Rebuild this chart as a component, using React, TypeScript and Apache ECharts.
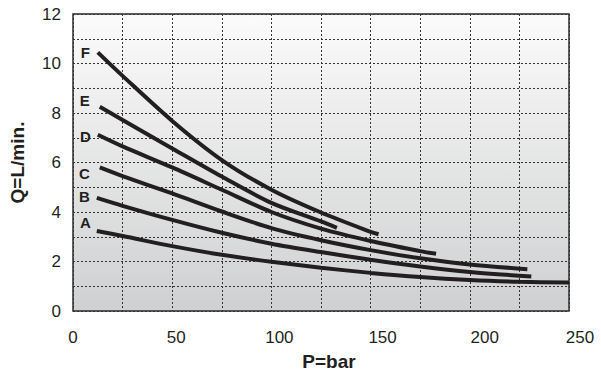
import React, { useEffect, useRef } from "react";
import * as echarts from "echarts";

// Flow (Q, L/min) versus pressure (P, bar) for six settings A–F
const curveNames = ["A", "B", "C", "D", "E", "F"];

const pA = [12, 25, 50, 75, 100, 125, 150, 175, 200, 225, 250];
const qA = [3.23, 3.03, 2.62, 2.27, 1.99, 1.75, 1.54, 1.37, 1.25, 1.18, 1.15];

const pB = [12, 25, 50, 75, 100, 125, 150, 175, 200, 231];
const qB = [4.57, 4.25, 3.68, 3.16, 2.72, 2.38, 2.07, 1.8, 1.58, 1.39];

const pC = [13.5, 25, 50, 75, 100, 125, 150, 175, 200, 229];
const qC = [5.8, 5.45, 4.75, 4.02, 3.35, 2.86, 2.46, 2.13, 1.88, 1.69];

const pD = [12.5, 25, 50, 75, 100, 125, 150, 175, 183];
const qD = [7.12, 6.65, 5.8, 4.9, 4.0, 3.33, 2.83, 2.42, 2.31];

const pE = [13.5, 25, 50, 75, 100, 125, 133];
const qE = [8.25, 7.72, 6.57, 5.43, 4.37, 3.62, 3.36];

const pF = [12.5, 25, 50, 75, 100, 125, 150, 154];
const qF = [10.45, 9.5, 7.68, 6.1, 4.9, 3.98, 3.2, 3.1];

const pressures = [pA, pB, pC, pD, pE, pF];
const flows = [qA, qB, qC, qD, qE, qF];

const xTicks = [0, 50, 100, 150, 200, 250];
const yTicks = [0, 2, 4, 6, 8, 10, 12];

// letter placement next to the start of each curve: [distance, dy]
const letterPlacement: Record<string, [number, number]> = {
  A: [6, -9],
  B: [7, -1],
  C: [10, 6],
  D: [7, 2],
  E: [10, -6],
  F: [8, 0],
};

// small horizontal nudges of the pressure tick labels
const xLabelShift: Record<number, number> = { 0: 0, 50: 4, 100: 8, 150: 12, 200: 15, 250: 11 };

const INK = "#231f20";
const FONT = "'Liberation Sans', Arial, sans-serif";

export default function App() {
  const ref = useRef<HTMLDivElement>(null);

  useEffect(() => {
    if (!ref.current) return;
    const chart = echarts.init(ref.current, undefined, { renderer: "svg" });

    const rich: Record<string, any> = {};
    xTicks.forEach((t) => {
      rich["s" + t] = {
        fontFamily: FONT,
        fontSize: 17,
        color: INK,
        padding: [0, 0, 0, xLabelShift[t] * 2],
      };
    });

    const series = curveNames.map((name, i) => {
      const [dist, dy] = letterPlacement[name];
      const data = pressures[i].map((p, j) => {
        const item: any = { value: [p, flows[i][j]] };
        if (j === 0) {
          item.label = {
            show: true,
            formatter: name,
            position: "left",
            distance: dist,
            offset: [0, dy],
            fontFamily: FONT,
            fontWeight: "bold",
            fontSize: 15,
            color: INK,
          };
        }
        return item;
      });
      return {
        name,
        type: "line",
        data,
        smooth: 0.3,
        showSymbol: true,
        symbol: "circle",
        symbolSize: 0,
        label: { show: false },
        lineStyle: { color: INK, width: 4, cap: "butt" },
        itemStyle: { color: INK },
        emphasis: { disabled: true },
        silent: true,
        z: 3,
      };
    });

    chart.setOption({
      animation: false,
      grid: {
        left: 73,
        right: 32,
        top: 14,
        bottom: 74,
        show: true,
        borderColor: "#2b2b2b",
        borderWidth: 1.5,
        backgroundColor: new echarts.graphic.LinearGradient(0, 0, 0, 1, [
          { offset: 0, color: "#fbfbfb" },
          { offset: 1, color: "#cfd0d1" },
        ]),
      },
      xAxis: {
        type: "value",
        min: 0,
        max: 250,
        interval: 25,
        name: "P=bar",
        nameLocation: "middle",
        nameGap: 41,
        nameTextStyle: {
          fontFamily: FONT,
          fontWeight: "bold",
          fontSize: 19,
          color: INK,
          padding: [0, 0, 0, 16],
        },
        axisLine: { show: false },
        axisTick: { show: false },
        axisLabel: {
          margin: 18,
          fontFamily: FONT,
          fontSize: 17,
          color: INK,
          formatter: (v: number) => (xTicks.includes(v) ? `{s${v}|${v}}` : ""),
          rich,
        },
        splitLine: { show: true, lineStyle: { color: "#333", width: 1, type: [2, 2] } },
      },
      yAxis: {
        type: "value",
        min: 0,
        max: 12,
        interval: 1,
        name: "Q=L/min.",
        nameLocation: "middle",
        nameGap: 46,
        nameTextStyle: {
          fontFamily: FONT,
          fontWeight: "bold",
          fontSize: 19,
          color: INK,
        },
        axisLine: { show: false },
        axisTick: { show: false },
        axisLabel: {
          margin: 12,
          fontFamily: FONT,
          fontSize: 17,
          color: INK,
          formatter: (v: number) => (yTicks.includes(v) ? String(v) : ""),
        },
        splitLine: { show: true, lineStyle: { color: "#333", width: 1, type: [2, 2] } },
      },
      series,
    });

    return () => chart.dispose();
  }, []);

  return <div ref={ref} style={{ width: 601, height: 385, position: "absolute", left: 0, top: 0 }} />;
}
